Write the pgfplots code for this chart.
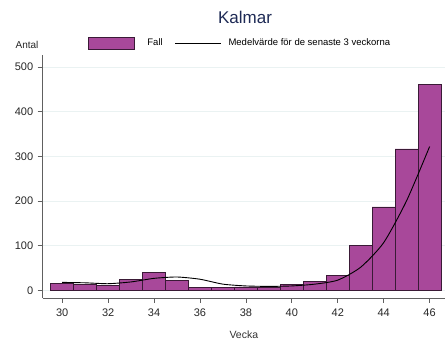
\documentclass[border=0pt]{standalone}
\usepackage{pgfplots}
\pgfplotsset{compat=1.18}
\usepackage{fontspec}
\setmainfont{Liberation Sans}
\definecolor{barfill}{HTML}{A8489A}
\definecolor{baredge}{HTML}{3A1A36}
\definecolor{titlecol}{HTML}{1E2A55}
\definecolor{gridcol}{HTML}{EAF2F2}
\definecolor{axcol}{HTML}{606060}
\begin{document}
\begin{tikzpicture}
\path[use as bounding box] (-42.7pt,-47pt) rectangle (402.3pt,298pt);
\begin{axis}[
  scale only axis,
  width=402.3pt, height=243pt,
  xmin=29.15, xmax=46.67,
  ymin=-17, ymax=527,
  axis x line*=bottom, axis y line*=left,
  axis line style={axcol, line width=0.8pt},
  tick style={axcol, line width=0.7pt},
  tick align=outside,
  major tick length=5pt,
  xtick={30,32,...,46},
  ytick={0,100,...,500},
  ymajorgrids,
  grid style={gridcol, line width=0.8pt},
  ticklabel style={font=\fontsize{11}{13}\selectfont, color=black!85},
  /pgf/number format/assume math mode=true,
  yticklabel style={xshift=-1pt},
  xticklabel style={yshift=-2pt},
  xlabel={Vecka},
  xlabel style={font=\fontsize{10.5}{12}\selectfont, color=black!80, yshift=-8pt},
  title={Kalmar},
  title style={font=\fontsize{17}{20}\selectfont, color=titlecol, at={(0.503,1.13)}, anchor=center},
  legend columns=2,
  legend style={draw=none, fill=none, at={(0.107,1.049)}, anchor=west,
    font=\fontsize{9.5}{11}\selectfont, inner sep=2pt,
    /tikz/every even column/.style={column sep=6pt},
    nodes={inner xsep=6pt}},
  clip=false,
]
\addplot[ybar, bar width=22.97pt, bar shift=0pt, fill=barfill, draw=baredge, line width=0.6pt,
  legend image code/.code={\draw[fill=barfill, draw=baredge, line width=0.5pt] (0pt,-6pt) rectangle (46pt,6pt);}]
coordinates {
(30,16) (31,14) (32,12) (33,25) (34,40) (35,23) (36,7) (37,6) (38,8)
(39,8) (40,13) (41,20) (42,34) (43,100) (44,187) (45,317) (46,462)
};
\addlegendentry{\hspace{7pt}Fall\hspace{-10pt}}
\addplot[black, line width=0.9pt, smooth, tension=0.4,
  legend image code/.code={\draw[black, line width=0.8pt] (0pt,0pt) -- (46pt,0pt);}]
coordinates {
(30,18) (31,17) (32,15) (33,19) (34,27) (35,30) (36,25) (37,14) (38,10)
(39,9) (40,10) (41,14) (42,23) (43,52) (44,107) (45,201) (46,322)
};
\addlegendentry{\hspace{1pt}Medelvärde för de senaste 3 veckorna}
\node[font=\fontsize{10}{12}\selectfont, color=black!85, anchor=center] at (axis description cs:-0.039,1.04) {Antal};
\end{axis}
\end{tikzpicture}
\end{document}
